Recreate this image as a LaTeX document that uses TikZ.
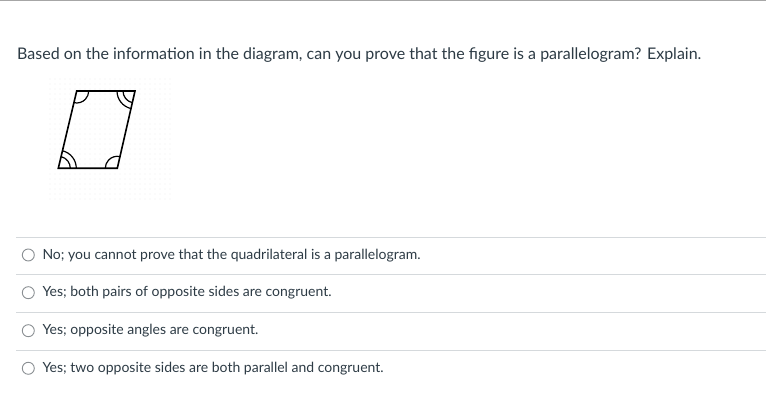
\documentclass[tikz,border=0pt]{standalone}
\usepackage{fontspec}
\setmainfont{Lato}
\usetikzlibrary{positioning}
\definecolor{textgray}{HTML}{2D3B45}
\definecolor{rulegray}{HTML}{D5D9DC}
\definecolor{radiogray}{HTML}{8A8F93}
\tikzset{
    question/.style={anchor=base west,inner sep=0pt,text=textgray,font=\fontsize{16}{19}\selectfont},
    answer/.style={anchor=base west,inner sep=0pt,text=textgray,font=\fontsize{14}{17}\selectfont},
    radio/.style={draw=radiogray,circle,line width=0.9pt,minimum size=12pt,inner sep=0pt},
    shape line/.style={line width=1.6pt,line join=miter}
}
\begin{document}
\begin{tikzpicture}[x=1pt,y=1pt]
    \useasboundingbox (0,0) rectangle (766,403);
    \fill[white] (0,0) rectangle (766,403);

    % Top rule
    \draw[gray!70,line width=1.5pt] (0,402.3) -- (766,402.3);

    % Question
    \node [question] (q) at (17,343.5) {Based on the information in the diagram, can you prove that the figure is a parallelogram? Explain.};

    % Faint dotted background of the figure
    \foreach \i in {0,...,24} {
        \foreach \j in {0,...,24} {
            \fill[black!6] (50+5*\i,204+5*\j) circle (0.6);
        }
    }

    % Parallelogram
    \coordinate (A) at (58.3,234.7);
    \coordinate (B) at (117.3,234.7);
    \coordinate (C) at (135,312);
    \coordinate (D) at (76.7,312);
    \draw[shape line] (A) -- (B) -- (C) -- (D) -- cycle;

    % Angle marks
    \draw[line width=1.2pt] ([shift={(0:12)}]A) arc[start angle=0,end angle=76.6,radius=12];
    \draw[line width=1.2pt] ([shift={(0:18)}]A) arc[start angle=0,end angle=76.6,radius=18];
    \draw[line width=1.2pt] ([shift={(180:12)}]C) arc[start angle=180,end angle=256.6,radius=12];
    \draw[line width=1.2pt] ([shift={(180:18)}]C) arc[start angle=180,end angle=256.6,radius=18];
    \draw[line width=1.2pt] ([shift={(76.6:12)}]B) arc[start angle=76.6,end angle=180,radius=12];
    \draw[line width=1.2pt] ([shift={(256.6:12)}]D) arc[start angle=256.6,end angle=360,radius=12];

    % Answer choices
    \foreach \k/\y/\txt in {1/148/{No; you cannot prove that the quadrilateral is a parallelogram.},
                            2/110.3/{Yes; both pairs of opposite sides are congruent.},
                            3/72.3/{Yes; opposite angles are congruent.},
                            4/34.7/{Yes; two opposite sides are both parallel and congruent.}} {
        \draw[rulegray,line width=0.8pt] (16,\y+18) -- (766,\y+18);
        \node [radio] (r\k) at (28.3,\y) {};
        \node [answer] (a\k) at (42.3,\y-4.3) {\txt};
    }
\end{tikzpicture}
\end{document}
